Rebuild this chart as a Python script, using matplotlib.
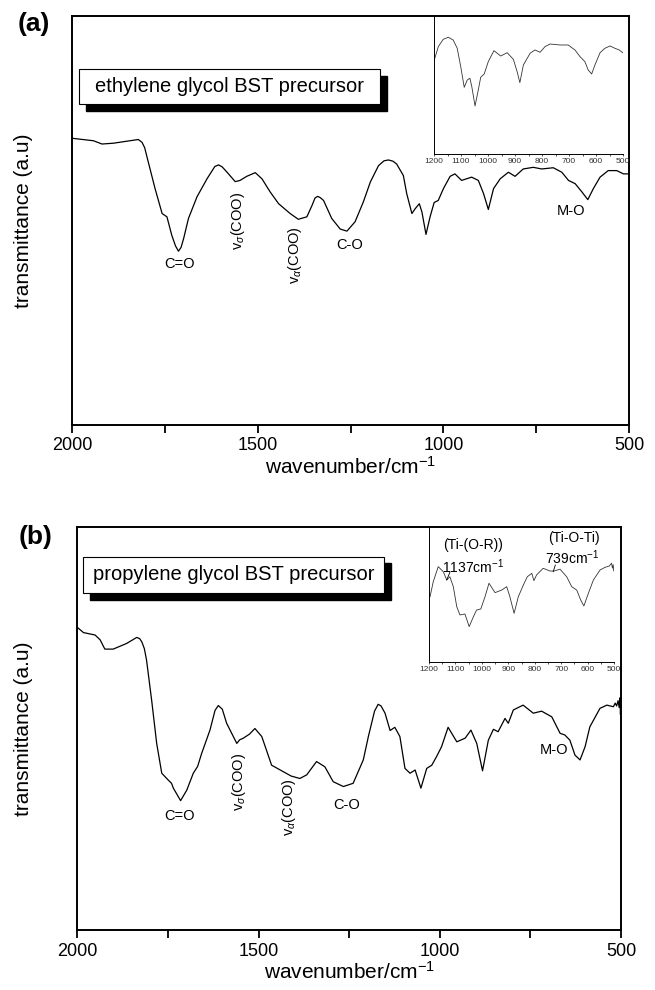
import matplotlib
matplotlib.use("Agg")
import matplotlib.pyplot as plt
from matplotlib.patches import Rectangle

plt.rcParams['font.family'] = ['Liberation Sans', 'DejaVu Sans']
plt.rcParams['mathtext.fontset'] = 'custom'
plt.rcParams['mathtext.rm'] = 'Liberation Sans'
plt.rcParams['mathtext.it'] = 'Liberation Sans:italic'

# ---- (a) ethylene glycol precursor, full spectrum
eg_wn = [2000, 1943, 1920, 1889, 1830, 1822, 1812, 1805, 1795, 1777, 1758, 1745, 1732,
         1722, 1714, 1707, 1700, 1687, 1664, 1637, 1616, 1606, 1596, 1583, 1561, 1548,
         1530, 1507, 1489, 1467, 1444, 1413, 1391, 1368, 1354, 1346, 1339, 1332, 1323,
         1301, 1278, 1260, 1238, 1216, 1197, 1175, 1160, 1148, 1136, 1126, 1108, 1099,
         1085, 1076, 1065, 1058, 1047, 1036, 1025, 1014, 1000, 982, 969, 951, 924, 906,
         892, 879, 865, 847, 825, 807, 785, 758, 735, 704, 681, 663, 645, 627, 611, 596,
         578, 556, 533, 515, 500]
eg_tr = [70.1, 69.5, 68.7, 68.9, 69.7, 69.8, 69.1, 67.8, 64.2, 57.8, 51.7, 50.9, 46.4,
         43.8, 42.5, 43.4, 45.6, 50.5, 55.8, 60.2, 63.2, 63.6, 63.1, 61.8, 59.5, 59.8,
         60.8, 61.7, 60.2, 57.0, 54.1, 51.7, 50.3, 50.9, 53.7, 55.5, 55.9, 55.6, 54.9,
         50.5, 47.9, 47.4, 49.7, 54.5, 59.4, 63.4, 64.6, 64.8, 64.5, 63.8, 61.0, 56.6,
         51.7, 52.9, 54.1, 52.1, 46.6, 50.9, 54.4, 54.9, 57.8, 60.8, 61.4, 59.8, 60.6,
         59.8, 56.6, 52.7, 57.8, 60.2, 61.8, 60.8, 62.6, 63.0, 62.6, 62.9, 61.8, 59.8,
         59.0, 57.0, 55.1, 57.8, 60.6, 62.2, 62.2, 61.4, 61.4]

# inset (a), 1200-500 region
eg_in_wn = [1199, 1184, 1166, 1147, 1129, 1114, 1101, 1088, 1077, 1067, 1060, 1048, 1036,
            1027, 1014, 999, 978, 953, 929, 906, 892, 882, 869, 844, 826, 807, 789, 770,
            733, 703, 678, 659, 641, 629, 616, 604, 585, 567, 548, 530, 514, 501]
eg_in_tr = [68.1, 77.8, 83.1, 84.6, 82.6, 76.6, 63.3, 48.3, 53.6, 54.9, 48.8, 34.8, 46.4,
            55.6, 58.0, 66.9, 74.9, 71.0, 73.4, 68.6, 59.6, 51.7, 64.5, 73.0, 75.4, 73.7,
            77.8, 79.7, 79.0, 79.0, 75.4, 70.5, 66.9, 60.9, 58.0, 64.5, 73.4, 76.6, 78.3,
            76.6, 75.4, 73.4]

# ---- (b) propylene glycol precursor
pg_wn = [2000, 1983, 1951, 1937, 1924, 1901, 1864, 1836, 1828, 1822, 1815, 1809, 1795,
         1781, 1767, 1749, 1740, 1735, 1715, 1698, 1680, 1668, 1657, 1634, 1620, 1611,
         1600, 1588, 1560, 1552, 1542, 1525, 1510, 1491, 1464, 1432, 1410, 1386, 1367,
         1340, 1317, 1294, 1266, 1239, 1211, 1197, 1180, 1170, 1162, 1151, 1137, 1124,
         1110, 1096, 1082, 1068, 1052, 1036, 1022, 1009, 995, 977, 953, 930, 914, 898,
         882, 866, 852, 839, 820, 811, 797, 770, 742, 719, 691, 668, 655, 641, 627, 613,
         599, 586, 558, 539, 521, 516, 512, 508, 505, 503, 501.5, 500]
pg_tr = [75.1, 73.8, 73.2, 72.0, 69.7, 69.7, 71.1, 72.6, 72.3, 71.5, 69.8, 67.0, 57.1,
         46.3, 38.9, 37.2, 36.4, 35.2, 32.1, 34.7, 38.9, 40.6, 43.8, 49.6, 54.5, 55.7,
         54.8, 51.3, 46.3, 47.2, 47.6, 48.6, 50.0, 48.0, 40.9, 39.3, 38.2, 37.6, 38.5,
         41.8, 40.5, 36.8, 35.6, 36.4, 42.2, 48.0, 54.3, 56.0, 55.6, 53.8, 49.5, 50.3,
         48.0, 40.1, 38.9, 39.7, 35.2, 40.1, 40.9, 43.0, 45.5, 50.3, 46.7, 47.6, 49.6,
         46.3, 39.5, 47.1, 49.8, 49.2, 52.5, 51.3, 54.6, 55.8, 53.8, 54.3, 52.9, 48.8,
         48.4, 47.1, 43.4, 42.2, 45.5, 50.4, 55.0, 55.8, 55.4, 56.3, 55.6, 56.9, 55.2,
         57.6, 53.5, 55.8]

# inset (b)
pg_in_wn = [1196, 1184, 1165, 1146, 1133, 1121, 1108, 1095, 1083, 1064, 1048, 1032, 1020,
            1004, 988, 973, 950, 925, 906, 894, 878, 862, 843, 828, 811, 803, 793, 768,
            742, 727, 704, 679, 660, 641, 626, 614, 597, 578, 553, 534, 518, 509, 506,
            503, 501]
pg_in_tr = [48.0, 59.0, 70.1, 66.4, 60.3, 62.7, 55.4, 40.7, 34.6, 35.3, 26.0, 33.3, 38.2,
            39.0, 48.0, 57.9, 51.0, 52.9, 55.4, 48.0, 35.8, 48.0, 56.6, 62.7, 65.2, 59.8,
            64.0, 68.9, 66.9, 66.9, 68.2, 62.7, 55.4, 52.9, 45.6, 41.2, 50.5, 60.3, 67.6,
            69.6, 70.6, 72.6, 69.0, 71.5, 67.0]

main_ticks = [2000, 1750, 1500, 1250, 1000, 750, 500]
main_ticklabels = ['2000', '', '1500', '', '1000', '', '500']
inset_ticks = [1200, 1100, 1000, 900, 800, 700, 600, 500]

W, H = 655.0, 990.0
def box(l, t, r, b):
    # pixel box -> figure fraction rect
    return [l / W, 1 - b / H, (r - l) / W, (b - t) / H]

fig = plt.figure(figsize=(6.55, 9.9), dpi=100)


def main_panel(rect, wn, tr, ylab_x):
    ax = fig.add_axes(rect)
    ax.plot(wn, tr, color='k', lw=0.9)
    ax.set_xlim(2000, 500)
    ax.set_ylim(0, 100)
    ax.set_yticks([])
    ax.set_xticks(main_ticks)
    ax.set_xticklabels(main_ticklabels, fontsize=13)
    ax.tick_params(axis='x', direction='out', length=6, width=1.3, pad=3)
    for s in ax.spines.values():
        s.set_linewidth(1.4)
    ax.set_xlabel(r'wavenumber/cm$^{-1}$', fontsize=15)
    ax.xaxis.set_label_coords(0.5, -0.076)
    ax.set_ylabel('transmittance (a.u)', fontsize=15)
    ax.yaxis.set_label_coords(ylab_x, 0.5)
    return ax


def inset_panel(rect, wn, tr):
    ax = fig.add_axes(rect)
    ax.patch.set_alpha(0)
    ax.plot(wn, tr, color='#333333', lw=0.6)
    ax.set_xlim(1200, 500)
    ax.set_ylim(0, 100)
    ax.set_yticks([])
    ax.set_xticks(inset_ticks)
    ax.set_xticks(range(550, 1200, 100), minor=True)
    ax.tick_params(axis='x', which='both', direction='out', length=1.5, width=0.6,
                   labelsize=6, pad=1.5, colors='#333333')
    ax.spines['top'].set_visible(False)
    ax.spines['right'].set_visible(False)
    ax.spines['left'].set_linewidth(0.7)
    ax.spines['bottom'].set_linewidth(0.7)
    return ax


def shadow_box(l, t, r, b, label):
    fig.add_artist(Rectangle((l / W + 6.5 / W, 1 - (b + 6.5) / H), (r - l) / W, (b - t) / H,
                             transform=fig.transFigure, facecolor='k', edgecolor='k'))
    fig.add_artist(Rectangle((l / W, 1 - b / H), (r - l) / W, (b - t) / H,
                             transform=fig.transFigure, facecolor='white',
                             edgecolor='k', lw=0.8))
    fig.text((l + r) / 2 / W, 1 - (t + b) / 2 / H, label, fontsize=14.5,
             ha='center', va='center')


# ---------- panel (a)
axa = main_panel(box(72.3, 16, 629, 425), eg_wn, eg_tr, -0.0706)
kw = dict(fontsize=10.5, ha='center', va='center')
axa.text(1710, 39.4, 'C=O', **kw)
axa.text(1553, 49.9, r'v$_\sigma$(COO)', rotation=90, **kw)
axa.text(1400, 41.6, r'v$_\alpha$(COO)', rotation=90, **kw)
axa.text(1252, 44.0, 'C-O', **kw)
axa.text(655, 52.4, 'M-O', **kw)

inset_panel(box(434, 16, 623, 154), eg_in_wn, eg_in_tr)
shadow_box(79.3, 69.3, 380, 104, 'ethylene glycol BST precursor')
fig.text(34 / W, 1 - 24 / H, '(a)', fontsize=19, fontweight='bold', ha='center', va='center')

# ---------- panel (b)
axb = main_panel(box(77.3, 527, 621, 930), pg_wn, pg_tr, -0.0815)
axb.text(1717, 28.3, 'C=O', **kw)
axb.text(1555, 36.7, r'v$_\sigma$(COO)', rotation=90, **kw)
axb.text(1417, 30.4, r'v$_\alpha$(COO)', rotation=90, **kw)
axb.text(1258, 31.0, 'C-O', **kw)
axb.text(685, 44.7, 'M-O', **kw)

axbi = inset_panel(box(429, 526, 614, 662), pg_in_wn, pg_in_tr)
ikw = dict(fontsize=10, ha='center', va='center')
axbi.text(1033, 86.0, '(Ti-(O-R))', **ikw)
axbi.text(1033, 70.1, r'1137cm$^{-1}$', **ikw)
axbi.plot([1133, 1120], [60.3, 66.4], color='k', lw=0.6)
axbi.text(651, 91.2, '(Ti-O-Ti)', **ikw)
axbi.text(657, 76.5, r'739cm$^{-1}$', **ikw)
axbi.plot([730, 722], [66.4, 71.3], color='k', lw=0.6)

shadow_box(83.3, 556.7, 384.3, 593.3, 'propylene glycol BST precursor')
fig.text(36 / W, 1 - 537 / H, '(b)', fontsize=19, fontweight='bold', ha='center', va='center')

plt.savefig('out.png', dpi=100)
